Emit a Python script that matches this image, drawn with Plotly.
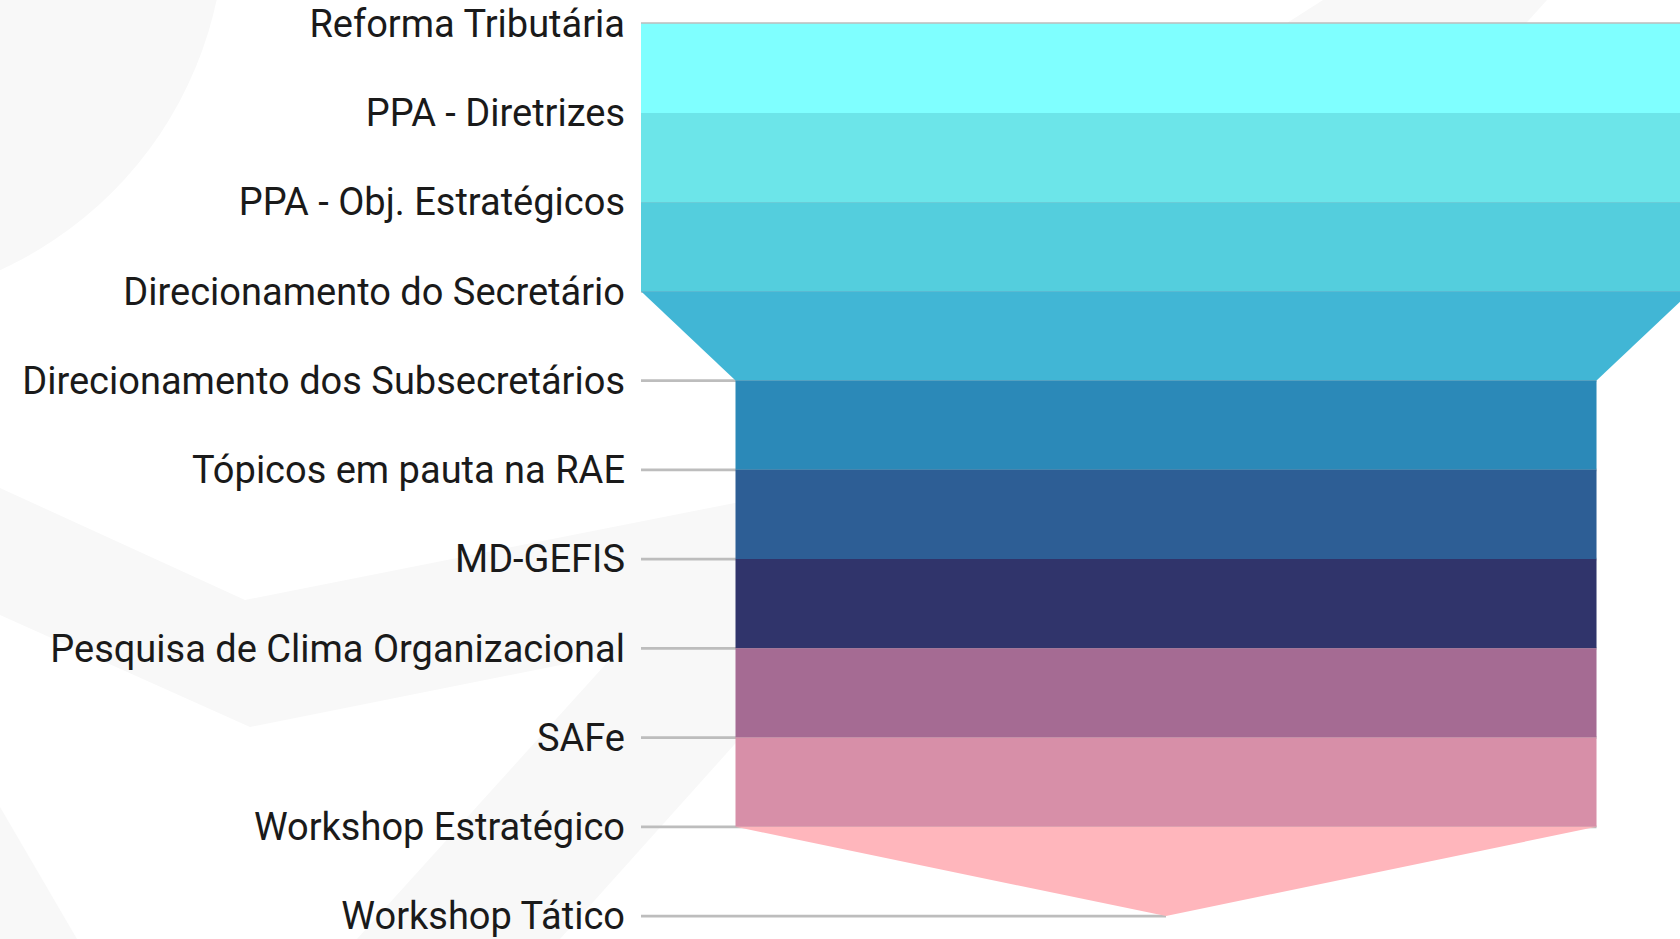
import plotly.graph_objects as go

categories = [
    "Reforma Tributária",
    "PPA - Diretrizes",
    "PPA - Obj. Estratégicos",
    "Direcionamento do Secretário",
    "Direcionamento dos Subsecretários",
    "Tópicos em pauta na RAE",
    "MD-GEFIS",
    "Pesquisa de Clima Organizacional",
    "SAFe",
    "Workshop Estratégico",
    "Workshop Tático",
]
# half-width of the funnel at each stage boundary
widths = [100, 100, 100, 100, 82, 82, 82, 82, 82, 82, 0]
band_colors = [
    "#7FFFFF", "#6CE5E9", "#54CEDD", "#41B6D5", "#2B89B8",
    "#2D5E95", "#30346B", "#A56B93", "#D78FA8", "#FFB6BC",
]

W, H = 1680, 939
fig = go.Figure()

# reference lines from the axis to the right edge of the funnel at each stage
for i, w in enumerate(widths):
    fig.add_trace(go.Scatter(
        x=[-100, w], y=[i, i], mode="lines",
        line=dict(color="#BDBDBD", width=2.8),
        hoverinfo="skip", showlegend=False,
    ))

# funnel bands
for i, col in enumerate(band_colors):
    w0, w1 = widths[i], widths[i + 1]
    fig.add_trace(go.Scatter(
        x=[-w0, w0, w1, -w1, -w0], y=[i, i, i + 1, i + 1, i],
        mode="lines", fill="toself", fillcolor=col,
        line=dict(width=0, color=col),
        hoverinfo="skip", showlegend=False,
    ))

def px(x, y):
    return x / W, 1 - y / H

def poly(points):
    s = ""
    for k, (x, y) in enumerate(points):
        xp, yp = px(x, y)
        s += ("M" if k == 0 else "L") + f"{xp:.5f},{yp:.5f} "
    return s + "Z"

bg = "#F8F8F8"
shapes = []
cx0, cy0 = px(-545, 305)
cx1, cy1 = px(225, -465)
shapes.append(dict(type="circle", xref="paper", yref="paper", x0=cx0, y0=cy0, x1=cx1, y1=cy1,
                   fillcolor=bg, line=dict(width=0), layer="below"))
shapes.append(dict(type="path", xref="paper", yref="paper",
                   path=poly([(0, 488), (245, 600), (800, 490), (800, 617), (250, 727), (0, 615)]),
                   fillcolor=bg, line=dict(width=0), layer="below"))
shapes.append(dict(type="path", xref="paper", yref="paper",
                   path=poly([(0, 807), (77, 939), (0, 939)]),
                   fillcolor=bg, line=dict(width=0), layer="below"))
shapes.append(dict(type="path", xref="paper", yref="paper",
                   path=poly([(357, 939), (560, 939), (900, 560), (700, 560)]),
                   fillcolor=bg, line=dict(width=0), layer="below"))
shapes.append(dict(type="path", xref="paper", yref="paper",
                   path=poly([(1323, 0), (1547, 0), (1520, 30), (1276, 30)]),
                   fillcolor=bg, line=dict(width=0), layer="below"))

fig.update_layout(
    width=W, height=H,
    margin=dict(l=0, r=0, t=0, b=0),
    paper_bgcolor="white", plot_bgcolor="rgba(0,0,0,0)",
    showlegend=False,
    shapes=shapes,
    xaxis=dict(domain=[641 / W, 1], range=[-100, 97.9], visible=False, fixedrange=True),
    yaxis=dict(
        range=[10.257, -0.265], tickmode="array",
        tickvals=list(range(len(categories))), ticktext=categories,
        showgrid=False, zeroline=False, showline=False, ticks="",
        ticklabelstandoff=15, automargin=False, fixedrange=True,
        tickfont=dict(family="Roboto", size=38, color="#1a1a1a"),
    ),
)

fig.write_html(
    "out.html",
    config={"displayModeBar": False},
    post_script="document.body.style.margin='0';document.body.style.overflow='hidden';",
)
